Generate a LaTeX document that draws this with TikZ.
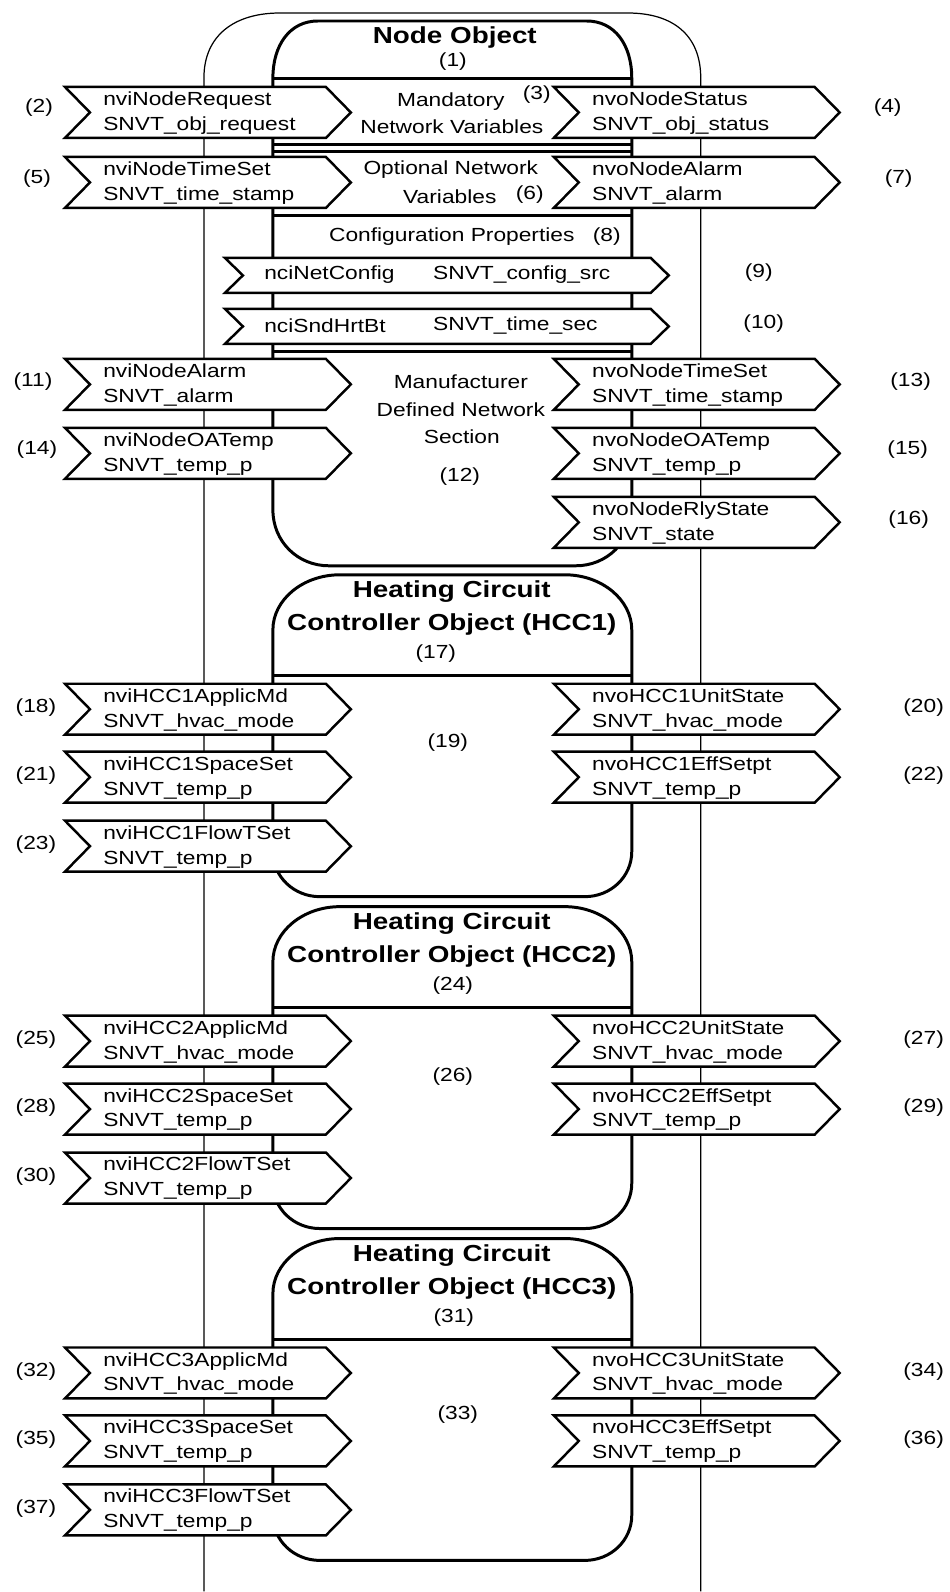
\documentclass[tikz,border=0pt]{standalone}
\usepackage{fontspec}
\setmainfont{Liberation Sans}[FakeStretch=1.2]

\tikzset{
  thinline/.style={line width=0.7pt},
  objline/.style={line width=1.7pt},
  chev/.style={draw, line width=1.4pt, fill=white, line join=miter},
  nvtext/.style={anchor=west, align=left},
  objtitle/.style={font=\fontsize{13.2}{16}\selectfont\bfseries},
}

% network variable chevron: name, left x, top y, two text lines
\newcommand{\nvbox}[5]{%
  \draw[chev] (#2,#3) -- ++(261,0) -- ++(25,25.5) -- ++(-25,25.5) -- ++(-261,0) -- ++(25,-25.5) -- cycle;
  \node[nvtext] (#1) at (#2+38,#3+26) {#4\\#5};}

\begin{document}
\begin{tikzpicture}[x=0.02cm, y=-0.02cm, every node/.style={inner sep=0pt},
    font=\fontsize{10.8}{14.2}\selectfont]
    \fill[white] (0,0) rectangle (950,1592);
    % outer outline
    \draw[thinline] (204,1592) -- (204,78) .. controls (204,35) and (235,13) .. (280,13)
      -- (628,13) .. controls (673,13) and (701,35) .. (701,78) -- (701,1592);
    % node object
    \draw[objline] (273,78) .. controls (273,45) and (290,21) .. (318,21) -- (587,21)
      .. controls (615,21) and (632,45) .. (632,78) -- (632,510)
      .. controls (632,542) and (607,566) .. (576,566) -- (329,566)
      .. controls (298,566) and (273,542) .. (273,510) -- cycle;
    \foreach \y in {79,145,152,216,352}
      \draw[objline] (273,\y) -- (632,\y);

    \node[objtitle] (nodeobj) at (455,38) {Node Object};
    \node (n1) at (453,62) {(1)};

    \nvbox{reqin}{65}{87}{nviNodeRequest}{SNVT\_obj\_request}
    \nvbox{statout}{554}{87}{nvoNodeStatus}{SNVT\_obj\_status}
    \nvbox{timein}{65}{157}{nviNodeTimeSet}{SNVT\_time\_stamp}
    \nvbox{alarmout}{554}{157}{nvoNodeAlarm}{SNVT\_alarm}
    \nvbox{alarmin}{65}{359}{nviNodeAlarm}{SNVT\_alarm}
    \nvbox{timeout}{554}{359}{nvoNodeTimeSet}{SNVT\_time\_stamp}
    \nvbox{oain}{65}{428}{nviNodeOATemp}{SNVT\_temp\_p}
    \nvbox{oaout}{554}{428}{nvoNodeOATemp}{SNVT\_temp\_p}
    \nvbox{rlyout}{554}{497}{nvoNodeRlyState}{SNVT\_state}

    \node (mand) at (451,102) {Mandatory};
    \node (n3) at (537,95) {(3)};
    \node (netvar) at (452,127) {Network Variables};
    \node (opt) at (451,170) {Optional Network};
    \node (optvar) at (450,197) {Variables};
    \node (n6) at (530,195) {(6)};
    \node (cfg) at (452,237) {Configuration Properties};
    \node (n8) at (607,237) {(8)};
    \node (manu) at (461,382) {Manufacturer};
    \node (manudef) at (461,410) {Defined Network};
    \node (manusec) at (462,437) {Section};
    \node (n12) at (460,477) {(12)};

    % configuration properties
    \draw[chev] (225,258) -- (651,258) -- ++(18,17.5) -- ++(-18,17.5) -- (225,293) -- ++(18,-17.5) -- cycle;
    \draw[chev] (225,309) -- (651,309) -- ++(18,17.5) -- ++(-18,17.5) -- (225,344) -- ++(18,-17.5) -- cycle;
    \node[nvtext] (netcfg) at (264,275) {nciNetConfig};
    \node[nvtext] (netcfgtype) at (433,275) {SNVT\_config\_src};
    \node[nvtext] (hrtbt) at (264,326) {nciSndHrtBt};
    \node[nvtext] (hrtbttype) at (433,326) {SNVT\_time\_sec};

    \node (n2) at (39,108) {(2)};
    \node (n4) at (888,108) {(4)};
    \node (n5) at (37,179) {(5)};
    \node (n7) at (899,179) {(7)};
    \node (n9) at (759,273) {(9)};
    \node (n10) at (764,324) {(10)};
    \node (n11) at (33,382) {(11)};
    \node (n13) at (911,382) {(13)};
    \node (n14) at (37,450) {(14)};
    \node (n15) at (908,450) {(15)};
    \node (n16) at (909,520) {(16)};

    % heating circuit controller objects
    \foreach \k/\nx/\cx/\cy in {1/436/448/168, 2/453/453/170, 3/454/458/176} {
      \pgfmathtruncatemacro\b{17+7*(\k-1)}
      \pgfmathtruncatemacro\t{332*(\k-1)}
      \pgfmathtruncatemacro\ia{\b+1}
      \pgfmathtruncatemacro\ic{\b+2}
      \pgfmathtruncatemacro\oa{\b+3}
      \pgfmathtruncatemacro\ib{\b+4}
      \pgfmathtruncatemacro\ob{\b+5}
      \pgfmathtruncatemacro\id{\b+6}
      \begin{scope}[shift={(0,\t)}]
        \draw[objline] (273,630) .. controls (273,600) and (303,575) .. (340,575) -- (565,575)
          .. controls (602,575) and (632,600) .. (632,630) -- (632,852)
          .. controls (632,877) and (611,897) .. (585,897) -- (320,897)
          .. controls (294,897) and (273,877) .. (273,852) -- cycle;
        \draw[objline] (273,676) -- (632,676);
        \node[objtitle] (hcc\k-head) at (452,592) {Heating Circuit};
        \node[objtitle] (hcc\k-name) at (452,625) {Controller Object (HCC\k)};
        \node (hcc\k-num) at (\nx,654) {(\b)};
        \node (hcc\k-mid) at (\cx,575+\cy) {(\ic)};

        \nvbox{hcc\k-in1}{65}{684}{nviHCC\k{}ApplicMd}{SNVT\_hvac\_mode}
        \nvbox{hcc\k-in2}{65}{752}{nviHCC\k{}SpaceSet}{SNVT\_temp\_p}
        \nvbox{hcc\k-in3}{65}{821}{nviHCC\k{}FlowTSet}{SNVT\_temp\_p}
        \nvbox{hcc\k-out1}{554}{684}{nvoHCC\k{}UnitState}{SNVT\_hvac\_mode}
        \nvbox{hcc\k-out2}{554}{752}{nvoHCC\k{}EffSetpt}{SNVT\_temp\_p}

        \node (hcc\k-na) at (36,708) {(\ia)};
        \node (hcc\k-nb) at (36,776) {(\ib)};
        \node (hcc\k-nd) at (36,845) {(\id)};
        \node (hcc\k-oa) at (924,708) {(\oa)};
        \node (hcc\k-ob) at (924,776) {(\ob)};
      \end{scope}
    }
\end{tikzpicture}
\end{document}
